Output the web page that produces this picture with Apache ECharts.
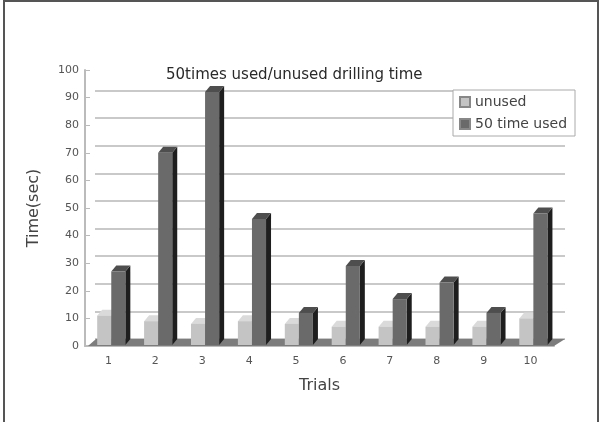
<!doctype html>
<html lang="en">
<head>
    <meta charset="utf-8">
    <title>50times used/unused drilling time</title>
    <script src="https://cdn.jsdelivr.net/npm/echarts@6.0.0/dist/echarts.min.js"></script>
    <style>
        html, body { margin: 0; padding: 0; background: #fff; }
        #chart { width: 603px; height: 422px; }
    </style>
</head>
<body>
    <div id="chart"></div>
    <script>
        // data
        const trials = ['1', '2', '3', '4', '5', '6', '7', '8', '9', '10'];
        const unused = [11, 9, 8, 9, 8, 7, 7, 7, 7, 10];
        const used50 = [27, 70, 92, 46, 12, 29, 17, 23, 12, 48];
        const yTicks = [0, 100, 10];

        const DX = 5, DY = -6;
        const font = 'DejaVu Sans';

        // 3D-ish box bar drawn from axis coordinates
        function boxSeries(name, values, shift, front, top, side) {
            return {
                name: name,
                type: 'custom',
                xAxisIndex: 0,
                yAxisIndex: 0,
                itemStyle: { color: front, borderColor: '#888', borderWidth: 1 },
                data: values.map((v, i) => [i, v]),
                renderItem: function (params, api) {
                    const base = api.coord([api.value(0), 0]);
                    const tp = api.coord([api.value(0), api.value(1)]);
                    const band = api.size([1, 0])[0];
                    const w = band * 0.3;
                    const x0 = base[0] + shift * band;
                    const x1 = x0 + w;
                    const yb = base[1] - 1, yt = tp[1];
                    return {
                        type: 'group',
                        children: [
                            { type: 'polygon', shape: { points: [[x1, yb], [x1 + DX, yb + DY], [x1 + DX, yt + DY], [x1, yt]] },
                              style: { fill: side } },
                            { type: 'polygon', shape: { points: [[x0, yt], [x1, yt], [x1 + DX, yt + DY], [x0 + DX, yt + DY]] },
                              style: { fill: top } },
                            { type: 'rect', shape: { x: x0, y: yt, width: w, height: yb - yt },
                              style: { fill: front } }
                        ]
                    };
                }
            };
        }

        const chart = echarts.init(document.getElementById('chart'));
        chart.setOption({
            animation: false,
            textStyle: { fontFamily: font },
            title: {
                text: '50times used/unused drilling time',
                left: 161,
                top: 63,
                textStyle: { fontFamily: font, fontSize: 15, fontWeight: 'normal', color: '#2a2a2a' }
            },
            legend: {
                orient: 'vertical',
                left: 453,
                top: 90,
                itemWidth: 10,
                itemHeight: 10,
                itemGap: 8,
                padding: [5, 8, 5, 6],
                borderColor: '#aaa',
                borderWidth: 1,
                backgroundColor: '#fff',
                icon: 'rect',
                textStyle: { fontFamily: font, fontSize: 14, color: '#444' },
                data: ['unused', '50 time used']
            },
            graphic: [{
                type: 'rect',
                shape: { x: 4, y: 1, width: 594, height: 440 },
                style: { fill: 'none', stroke: '#555', lineWidth: 2 },
                silent: true
            }],
            grid: [
                { left: 85, right: 49, top: 70, bottom: 76 },
                { left: 95, right: 38, top: 63, bottom: 83 }
            ],
            xAxis: [{
                type: 'category',
                gridIndex: 0,
                data: trials,
                name: 'Trials',
                nameLocation: 'middle',
                nameGap: 32,
                nameTextStyle: { fontFamily: font, fontSize: 16, color: '#444' },
                axisLine: { lineStyle: { color: '#bbb', width: 2 } },
                axisTick: { show: false },
                axisLabel: { fontSize: 11, color: '#555', margin: 10 }
            }, {
                type: 'category',
                gridIndex: 1,
                data: trials,
                show: false
            }],
            yAxis: [{
                type: 'value',
                gridIndex: 0,
                min: yTicks[0],
                max: yTicks[1],
                interval: yTicks[2],
                name: 'Time(sec)',
                nameLocation: 'middle',
                nameGap: 43,
                nameTextStyle: { fontFamily: font, fontSize: 16, color: '#444' },
                axisLine: { show: true, lineStyle: { color: '#bbb', width: 2 } },
                axisTick: { show: true, inside: true, length: 5, lineStyle: { color: '#bbb' } },
                axisLabel: { fontSize: 11, color: '#555', margin: 6 },
                splitLine: { show: false }
            }, {
                type: 'value',
                gridIndex: 1,
                min: yTicks[0],
                max: yTicks[1],
                interval: yTicks[2],
                axisLine: { show: false },
                axisTick: { show: false },
                axisLabel: { show: false },
                splitLine: {
                    show: true,
                    lineStyle: {
                        color: ['#c9c9c9', '#c9c9c9', '#c9c9c9', '#c9c9c9', '#c9c9c9', '#c9c9c9',
                                '#c9c9c9', '#c9c9c9', '#c9c9c9', '#c9c9c9', 'rgba(0,0,0,0)'],
                        width: 2
                    }
                }
            }],
            series: [
                {
                    type: 'custom',
                    xAxisIndex: 0,
                    yAxisIndex: 0,
                    silent: true,
                    data: [[0, 0]],
                    renderItem: function (params) {
                        const c = params.coordSys;
                        const yb = c.y + c.height;
                        return {
                            type: 'polygon',
                            shape: { points: [[c.x + 3, yb], [c.x + c.width, yb], [c.x + c.width + 11, yb - 7], [c.x + 11, yb - 7]] },
                            style: { fill: '#7c7c7c' }
                        };
                    }
                },
                boxSeries('unused', unused, -0.24, '#c4c4c4', '#dadada', '#9a9a9a'),
                boxSeries('50 time used', used50, 0.06, '#6a6a6a', '#4e4e4e', '#1e1e1e')
            ]
        });
    </script>
</body>
</html>
